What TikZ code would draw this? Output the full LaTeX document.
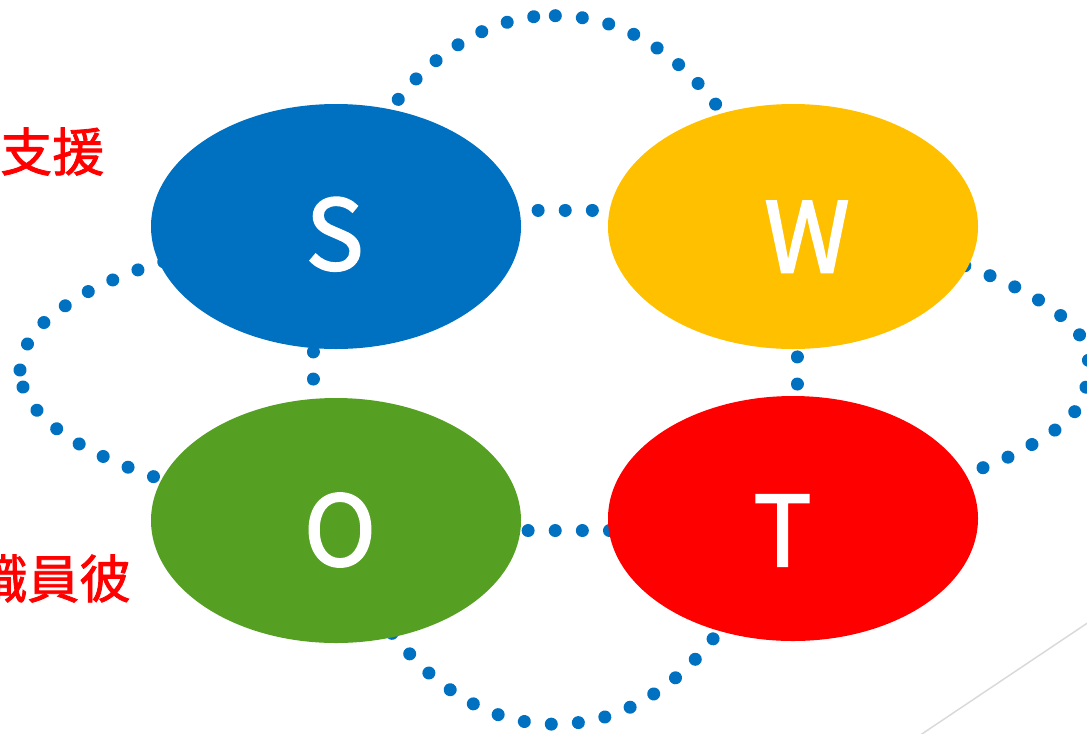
\documentclass[tikz,border=0pt]{standalone}
\usepackage{fontspec}
\newfontfamily\jpletter{Noto Sans CJK JP}[FakeBold=2]
\newfontfamily\jptext{Noto Sans CJK JP}[FakeBold=1.5]
\usetikzlibrary{shapes.geometric}
\definecolor{sblue}{HTML}{0070C0}
\definecolor{wyellow}{HTML}{FFC000}
\definecolor{ogreen}{HTML}{55A023}
\definecolor{tred}{HTML}{FF0000}
\definecolor{linegray}{HTML}{D9D9D9}
\begin{document}
\begin{tikzpicture}[x=0.75pt,y=-0.75pt,
  blob/.style={ellipse, minimum width=277.5pt, minimum height=183.75pt, inner sep=0pt, outer sep=0pt},
  letter/.style={text=white, font=\jpletter\fontsize{73}{80}\selectfont, inner sep=0pt},
  dotline/.style={draw=sblue, line width=9.75pt, line cap=round, dash pattern=on 0.01pt off 20.325pt},
  redtext/.style={text=tred, font=\jptext\fontsize{39}{44}\selectfont, inner sep=0pt}]
\useasboundingbox (0,0) rectangle (1087,733);
\clip (0,0) rectangle (1087,733);

% outer dotted arcs
\draw[dotline] plot[smooth] coordinates {(533.7,16.7) (507,22.3) (481.7,31.7) (457.7,45) (436,60.7) (416,79) (398.3,99.3) (383,121) (371,143)};
\draw[dotline] plot[smooth] coordinates {(555.3,15.7) (582,17.7) (608.7,24) (633.7,34.3) (657,48) (678.7,64.7) (698.3,83.7) (715.7,104.3) (730,126) (741,148)};
\draw[dotline] plot[smooth] coordinates {(20,370) (27.3,344.3) (43.7,322.7) (65,306) (88,291.7) (112.7,280) (137.7,270) (163,262) (190,258)};
\draw[dotline] plot[smooth] coordinates {(23,387) (37,410.3) (57,429) (79.3,444) (103.7,456.7) (128.3,467.3) (153.7,476.7) (180,484) (205,490)};
\draw[dotline] plot[smooth] coordinates {(983,467.7) (1008.3,457) (1032.3,444.3) (1055,430) (1075,411.3) (1085.7,388.3) (1088.6,361.7) (1081,337) (1062.7,317.3) (1040.7,301.3) (1017,288) (992.3,276.7) (968.3,266.7) (944,262)};
\draw[dotline] plot[smooth] coordinates {(392,633.3) (398.3,640.5) (416,660.8) (436,679.1) (457.7,694.8) (481.7,708.1) (507,717.5) (533.7,723.1) (555.3,724.1) (582,722.1) (608.7,715.8) (633.7,705.5) (657,691.8) (678.7,675.1) (698.3,656.1) (715.7,635.5) (731,614)};

% straight dotted links between neighbouring ellipses
\coordinate (sw1) at (511,210);   \coordinate (sw2) at (621,210);
\coordinate (ot1) at (501,530.7); \coordinate (ot2) at (638,530.7);
\coordinate (so1) at (313,324.8); \coordinate (so2) at (313,408);
\coordinate (wt1) at (797,329.8); \coordinate (wt2) at (797,413);
\draw[dotline] (sw1) -- (sw2);
\draw[dotline] (ot1) -- (ot2);
\draw[dotline] (so1) -- (so2);
\draw[dotline] (wt1) -- (wt2);

% ellipses
\node[blob, fill=sblue]   (S) at (336,226.5) {};
\node[blob, fill=wyellow] (W) at (793,226.5) {};
\node[blob, fill=ogreen]  (O) at (336,520.5) {};
\node[blob, fill=tred]    (T) at (793,518.5) {};

% letters
\node[letter] (Sl) at (334.7,234.2) {S};
\node[letter] (Wl) at (807,236.7) {W};
\node[letter] (Ol) at (340,530) {O};
\node[letter] (Tl) at (782.5,530.5) {T};

% red side texts
\node[redtext, anchor=west] (txt1) at (0,151.5) {支援};
\node[redtext, anchor=west] (txt2) at (-25,578.5) {職員彼};

% grey diagonal line
\coordinate (g1) at (1100,614.6);
\coordinate (g2) at (910,741.9);
\draw[linegray, line width=1.1pt] (g1) -- (g2);
\end{tikzpicture}
\end{document}
